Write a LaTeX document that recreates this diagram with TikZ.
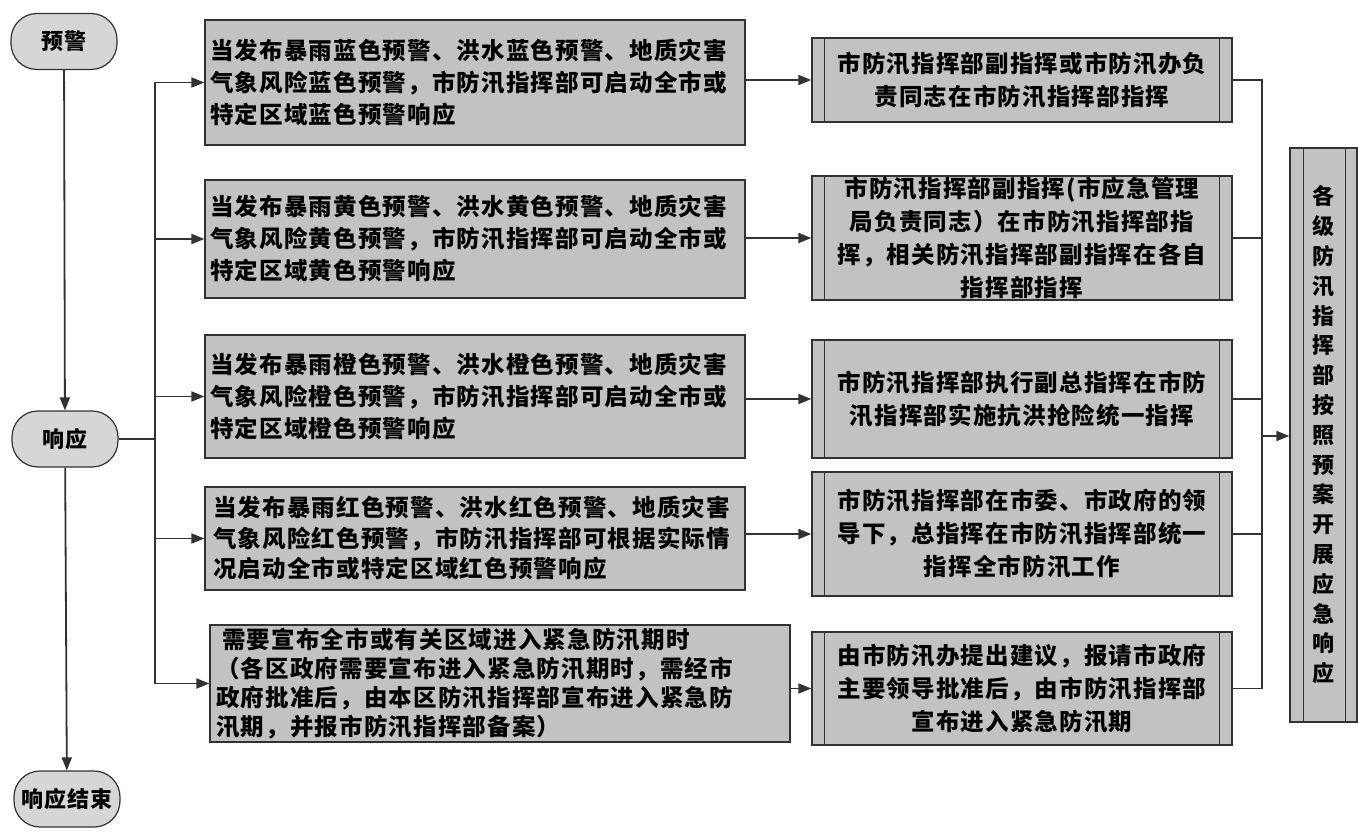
\documentclass[tikz,border=0pt]{standalone}
\usepackage{fontspec}
\usetikzlibrary{arrows.meta}
\newfontfamily\cjk{Noto Sans CJK SC}[LetterSpace=5]
\newfontfamily\cjkv{Noto Sans CJK SC}
\definecolor{boxfill}{RGB}{194,194,194}
\definecolor{termfill}{RGB}{214,214,214}
\definecolor{edgec}{RGB}{50,50,50}
\begin{document}
\begin{tikzpicture}[x=1pt,y=-1pt,
  conn/.style={draw=edgec, line width=1.8pt},
  arr/.style={conn, -{Triangle[length=13pt,width=10pt]}},
  bar/.style={draw=edgec, line width=1.1pt},
  term/.style={draw=edgec, line width=1.2pt, fill=termfill, rounded corners=26pt,
    minimum width=106pt, minimum height=56pt, inner sep=0pt,
    font=\cjk\bfseries\fontsize{22}{26}\selectfont},
  lbox/.style={draw=edgec, line width=1.3pt, fill=boxfill, align=left,
    inner xsep=5pt, inner ysep=0pt, text width=530pt, minimum width=540pt,
    font=\cjk\bfseries\fontsize{23.5}{32}\selectfont},
  rbox/.style={draw=edgec, line width=1.3pt, fill=boxfill, align=center,
    inner xsep=0pt, inner ysep=0pt, text width=420pt, minimum width=420pt,
    font=\cjk\bfseries\fontsize{23.5}{33}\selectfont},
  bigbox/.style={draw=edgec, line width=1.3pt, fill=boxfill, align=center,
    inner xsep=0pt, inner ysep=0pt, text width=67pt, minimum width=67pt,
    font=\cjkv\bfseries\fontsize{22}{29.8}\selectfont}
]
\useasboundingbox (0,0) rectangle (1358,832);
\fill[white] (0,0) rectangle (1358,832);

% terminals
\node[term] (yj) at (64,41.5) {预警};
\node[term] (xy) at (65,439) {响应};
\node[term] (js) at (67,799) {响应结束};

% left boxes
\node[lbox, minimum height=125pt] (lb1) at (475,82.5)
  {当发布暴雨蓝色预警、洪水蓝色预警、地质灾害\\气象风险蓝色预警，市防汛指挥部可启动全市或\\特定区域蓝色预警响应};
\node[lbox, minimum height=118pt] (lb2) at (475,239)
  {当发布暴雨黄色预警、洪水黄色预警、地质灾害\\气象风险黄色预警，市防汛指挥部可启动全市或\\特定区域黄色预警响应};
\node[lbox, minimum height=123pt] (lb3) at (475,396.5)
  {当发布暴雨橙色预警、洪水橙色预警、地质灾害\\气象风险橙色预警，市防汛指挥部可启动全市或\\特定区域橙色预警响应};
\node[lbox, minimum height=103pt, inner xsep=8pt, text width=524pt,
  font=\cjk\bfseries\fontsize{23.5}{30.5}\selectfont] (lb4) at (475,538.5)
  {当发布暴雨红色预警、洪水红色预警、地质灾害\\气象风险红色预警，市防汛指挥部可根据实际情\\况启动全市或特定区域红色预警响应};
\node[lbox, minimum height=117pt, minimum width=580pt, inner xsep=6pt, text width=568pt,
  font=\cjk\bfseries\fontsize{23.5}{29}\selectfont] (lb5) at (500,683.5)
  {\hspace*{6pt}需要宣布全市或有关区域进入紧急防汛期时\\（各区政府需要宣布进入紧急防汛期时，需经市\\政府批准后，由本区防汛指挥部宣布进入紧急防\\汛期，并报市防汛指挥部备案）};

% right boxes
\node[rbox, minimum height=84pt] (rb1) at (1022,80)
  {市防汛指挥部副指挥或市防汛办负\\责同志在市防汛指挥部指挥};
\node[rbox, minimum height=124pt] (rb2) at (1022,238)
  {市防汛指挥部副指挥(市应急管理\\局负责同志）在市防汛指挥部指\\挥，相关防汛指挥部副指挥在各自\\指挥部指挥};
\node[rbox, minimum height=118pt] (rb3) at (1022,399)
  {市防汛指挥部执行副总指挥在市防\\汛指挥部实施抗洪抢险统一指挥};
\node[rbox, minimum height=124pt] (rb4) at (1022,534)
  {市防汛指挥部在市委、市政府的领\\导下，总指挥在市防汛指挥部统一\\指挥全市防汛工作};
\node[rbox, minimum height=113pt] (rb5) at (1022,688.5)
  {由市防汛办提出建议，报请市政府\\主要领导批准后，由市防汛指挥部\\宣布进入紧急防汛期};

% big right box
\node[bigbox, minimum height=574pt] (big) at (1323.5,435)
  {各\\级\\防\\汛\\指\\挥\\部\\按\\照\\预\\案\\开\\展\\应\\急\\响\\应};

% process bars
\foreach \n in {rb1,rb2,rb3,rb4,rb5}{
  \draw[bar] ([xshift=13pt]\n.north west) -- ([xshift=13pt]\n.south west);
  \draw[bar] ([xshift=-13pt]\n.north east) -- ([xshift=-13pt]\n.south east);
}
\draw[bar] ([xshift=14pt]big.north west) -- ([xshift=14pt]big.south west);
\draw[bar] ([xshift=-12pt]big.north east) -- ([xshift=-12pt]big.south east);

% main vertical flow
\draw[arr] (yj) -- (xy);
\draw[arr] (xy) -- (js);

% left branch
\coordinate (bj) at (155,439);
\draw[conn] (xy.east) -- (bj);
\foreach \n in {lb1,lb2,lb3,lb4,lb5}{
  \draw[arr] (bj) |- (\n.west);
}

% left to right
\foreach \a/\b in {lb1/rb1,lb2/rb2,lb3/rb3,lb4/rb4,lb5/rb5}{
  \draw[arr] (\a.east |- \b.west) -- (\b.west);
}

% right merge
\coordinate (mj) at (1262,436);
\foreach \n in {rb1,rb2,rb3,rb4,rb5}{
  \draw[conn] (\n.east) -| (mj);
}
\draw[arr] (mj) -- (big.west |- mj);
\end{tikzpicture}
\end{document}
